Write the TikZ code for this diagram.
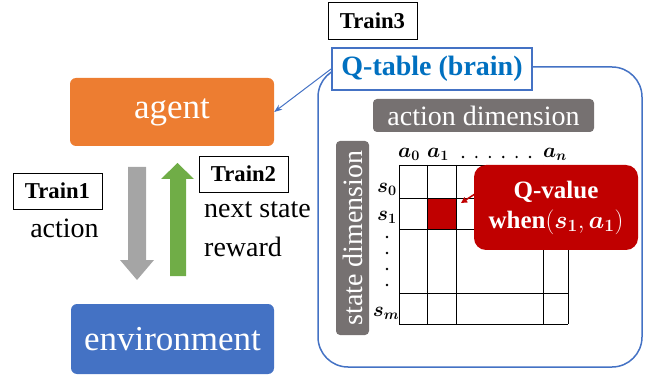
\documentclass[tikz,border=0pt]{standalone}
\usepackage{fontspec}
\setmainfont{Liberation Serif}
\usepackage{bm}
\usetikzlibrary{arrows.meta}
\definecolor{agentc}{HTML}{ED7D31}
\definecolor{envc}{HTML}{4472C4}
\definecolor{grayarr}{HTML}{A5A5A5}
\definecolor{greenarr}{HTML}{70AD47}
\definecolor{qtc}{HTML}{0070C0}
\definecolor{bigc}{HTML}{4472C4}
\definecolor{labgray}{HTML}{767171}
\definecolor{redc}{HTML}{C00000}
\begin{document}
\begin{tikzpicture}[x=1pt,y=-1pt,
  bigbox/.style={rounded corners=6pt, inner sep=0pt, text=white, font=\fontsize{35}{40}\selectfont},
  trainbox/.style={draw=black, line width=0.8pt, fill=white, inner sep=0pt, minimum width=89pt, minimum height=36pt, font=\bfseries\fontsize{22.7}{26}\selectfont},
  plain/.style={inner sep=0pt, font=\fontsize{28}{32}\selectfont},
  dimlab/.style={fill=labgray, rounded corners=4pt, inner sep=0pt, text=white, font=\fontsize{28}{32}\selectfont},
  gridline/.style={draw=black, line width=0.8pt},
  idx/.style={inner sep=0pt, font=\fontsize{20}{24}\selectfont}]
\useasboundingbox (0,0) rectangle (654,377);

% left side
\node[bigbox, fill=agentc, minimum width=204pt, minimum height=68pt] (agent) at (172,112) {agent};
\node[bigbox, fill=envc, minimum width=203pt, minimum height=70pt] (env) at (172.5,339) {environment};

\fill[grayarr] (128,167) -- (146,167) -- (146,260) -- (154,260) -- (137,280) -- (120,260) -- (128,260) -- cycle;
\fill[greenarr] (170,276) -- (186,276) -- (186,179) -- (194,179) -- (177.5,163) -- (161,179) -- (170,179) -- cycle;

\node[trainbox] (t1) at (57.5,191) {Train1};
\node[plain] (act) at (64.5,228) {action};
\node[trainbox] (t2) at (243.5,174) {Train2};
\node[plain, anchor=west] (ns) at (204,210) {next state};
\node[plain, anchor=west] (rw) at (204,247) {reward};
\node[trainbox, minimum height=37pt] (t3) at (372.5,20.5) {Train3};

% big Q-table frame
\draw[bigc, line width=1.5pt, rounded corners=30pt] (318,67) rectangle (642,367);

% grid
\fill[redc] (427,198) rectangle (456,229);
\foreach \gx in {399,427,456,543,568} \draw[gridline] (\gx,165) -- (\gx,324);
\foreach \gy in {165,198,229,293,324} \draw[gridline] (399,\gy) -- (568,\gy);

\node[idx] (a0) at (409,154) {$\bm{a_0}$};
\node[idx] (a1) at (438,154) {$\bm{a_1}$};
\node[idx] (an) at (555,154) {$\bm{a_n}$};
\foreach \i in {0,...,5} \fill (463+13.4*\i,157) circle (1.3pt);
\node[idx] (s0) at (387,189) {$\bm{s_0}$};
\node[idx] (s1) at (387,217) {$\bm{s_1}$};
\node[idx] (sm) at (386,313) {$\bm{s_m}$};
\foreach \yy in {237,253,269,285} \fill (387,\yy) circle (1.3pt);

\node[dimlab, minimum width=221pt, minimum height=33pt] (adim) at (483.5,115.5) {action dimension};
\node[dimlab, rotate=90, minimum width=194pt, minimum height=33pt] (sdim) at (352.5,238) {state dimension};

% callout
\node[fill=redc, rounded corners=12pt, minimum width=164pt, minimum height=85pt, inner sep=0pt, text=white, align=center, font=\bfseries\fontsize{25}{30}\selectfont] (qv) at (556,207.5) {Q-value\\when$(\bm{s_1},\bm{a_1})$};
\coordinate (cell) at (461,203);
\coordinate (cstart) at (478,192);
\draw[redc, line width=1.5pt, -{Triangle[length=6pt,width=6pt]}] (cstart) -- (cell);

% Q-table label
\node[draw=bigc, line width=2pt, fill=white, minimum width=200pt, minimum height=42pt, inner sep=0pt, text=qtc, font=\bfseries\fontsize{28}{32}\selectfont] (qt) at (432,69) {Q-table (brain)};
\draw[bigc, line width=1pt, -{Stealth[length=8pt,width=6pt]}] (qt.west) -- (agent.east);
\end{tikzpicture}
\end{document}
